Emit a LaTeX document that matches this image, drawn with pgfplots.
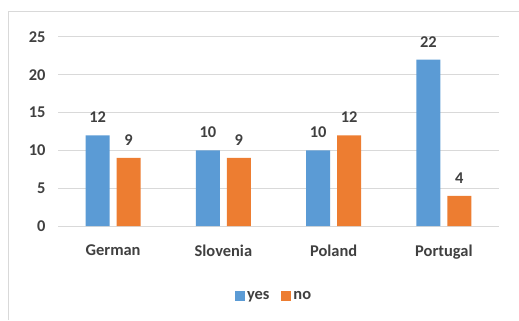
\documentclass[border=0pt]{standalone}
\usepackage{pgfplots}
\pgfplotsset{compat=1.18}
\usepackage{fontspec}
\setmainfont{Carlito}
\definecolor{cblue}{HTML}{5B9BD5}
\definecolor{corange}{HTML}{ED7D31}
\definecolor{cgrid}{HTML}{D9D9D9}
\definecolor{ctext}{HTML}{404040}
\begin{document}
\begin{tikzpicture}[x=1bp,y=1bp]
\path[use as bounding box] (0,0) rectangle (519,320);
\draw[cgrid, line width=1bp] (8,0) -- (8,308) -- (519,308);
\begin{axis}[
  at={(58bp,94bp)}, anchor=south west,
  width=441bp, height=189bp, scale only axis,
  xmin=-0.5, xmax=3.5, ymin=0, ymax=25,
  ybar=7bp, bar width=24bp,
  xtick=data, xticklabels={German,Slovenia,Poland,Portugal},
  ytick={0,5,10,15,20,25},
  ymajorgrids, grid style={cgrid, line width=1bp},
  axis line style={draw=none}, major tick length=0pt,
  /pgf/number format/assume math mode=true,
  tick label style={font=\fontsize{16.5}{19}\selectfont\bfseries, text=ctext},
  yticklabel style={xshift=-9bp},
  xticklabel style={yshift=-15bp},
  nodes near coords,
  every node near coord/.append style={font=\fontsize{16.5}{19}\selectfont\bfseries, text=ctext, yshift=9bp},
  legend style={at={(0.49,-0.37)}, anchor=center, draw=none, legend columns=2,
    font=\fontsize{16.5}{19}\selectfont\bfseries, text=ctext,
    /tikz/every even column/.append style={column sep=10bp}},
  legend image code/.code={\fill[#1] (2bp,-5bp) rectangle (12bp,5bp);},
  clip=false,
]
\addplot[fill=cblue, draw=none] coordinates {(0,12) (1,10) (2,10) (3,22)};
\addplot[fill=corange, draw=none] coordinates {(0,9) (1,9) (2,12) (3,4)};
\legend{yes,no}
\end{axis}
\end{tikzpicture}
\end{document}
